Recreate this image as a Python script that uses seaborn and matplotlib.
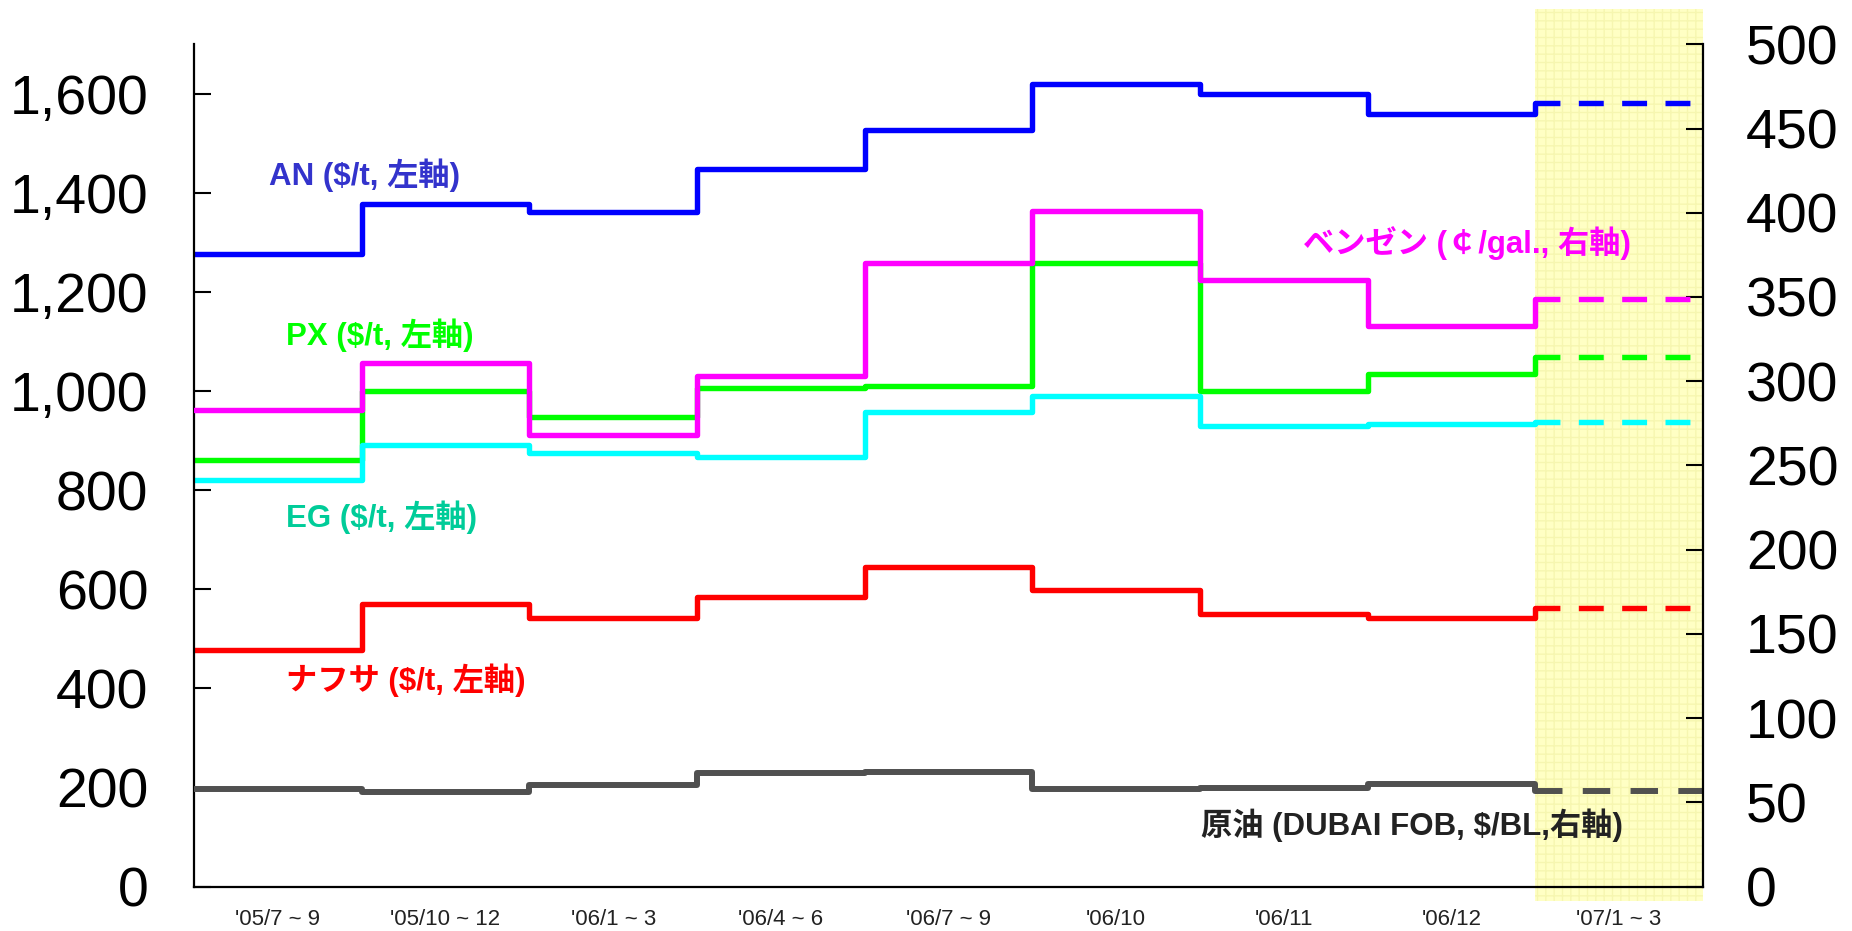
import numpy as np
import pandas as pd
import matplotlib
matplotlib.use('Agg')
import matplotlib.pyplot as plt
import seaborn as sns
from matplotlib.ticker import FuncFormatter, FixedLocator

# periods on the x axis
periods = ["'05/7 ~ 9", "'05/10 ~ 12", "'06/1 ~ 3", "'06/4 ~ 6", "'06/7 ~ 9",
           "'06/10", "'06/11", "'06/12", "'07/1 ~ 3"]

# left axis ($/t)
an = [1276, 1378, 1362, 1449, 1527, 1619, 1599, 1559, 1582]
px = [861, 1000, 948, 1007, 1011, 1259, 1001, 1035, 1068]
eg = [820, 892, 876, 867, 958, 991, 930, 934, 937]
naphtha = [478, 571, 543, 585, 646, 599, 551, 543, 562]

# right axis (c/gal, $/BL)
benzene = [283, 311, 268, 303, 370, 401, 360, 333, 349]
crude = [57.7, 56.3, 60.1, 67.6, 68.2, 57.7, 58.3, 60.9, 56.9]

sns.set_style('white')
plt.rcParams['font.family'] = ['Liberation Sans', 'Noto Sans CJK JP', 'DejaVu Sans']

fig = plt.figure(figsize=(18.52, 9.31), dpi=100)
ax = fig.add_axes([0.1048, 0.0477, 0.8147, 0.9047])
ax2 = ax.twinx()
ax2.set_position([0.1048, 0.0477, 0.8147, 0.9047])

# forecast period band
band = ax.axvspan(8, 9, ymin=-0.017, ymax=1.042, facecolor='#FFFFC4',
                  edgecolor='#F6F6B0', hatch='++', lw=0, clip_on=False, zorder=0)


def draw(a, vals, color, lw=3.9):
    n = len(vals)
    solid = pd.DataFrame({'x': np.arange(n), 'y': vals})
    sns.lineplot(data=solid, x='x', y='y', ax=a, color=color, lw=lw,
                 drawstyle='steps-post', estimator=None, sort=False)
    fc = pd.DataFrame({'x': [n - 1, n], 'y': [vals[-1], vals[-1]]})
    sns.lineplot(data=fc, x='x', y='y', ax=a, color=color, lw=lw,
                 ls=(0, (4.6, 3.4)), estimator=None, sort=False)


draw(ax, an, '#0000FF')
draw(ax, px, '#00FF00')
draw(ax, eg, '#00FFFF')
draw(ax, naphtha, '#FF0000')
draw(ax2, benzene, '#FF00FF')
draw(ax2, crude, '#505050', lw=4.3)

ax.set_xlim(0, 9)
ax.set_ylim(0, 1700)
ax2.set_ylim(0, 500)

ax.set_yticks(np.arange(0, 1601, 200))
ax.yaxis.set_major_formatter(FuncFormatter(lambda v, p: f'{v:,.0f}'))
ax2.set_yticks(np.arange(0, 501, 50))

ax.xaxis.set_major_locator(FixedLocator(np.arange(0, 10)))
ax.xaxis.set_minor_locator(FixedLocator(np.arange(9) + 0.5))
ax.set_xticklabels([])
ax.set_xticklabels(periods, minor=True)
ax.tick_params(axis='x', which='major', direction='in', length=10, width=1.5, color='black')
ax.tick_params(axis='x', which='minor', length=0, labelsize=16, pad=16, labelcolor='#222222')

ax.tick_params(axis='y', direction='in', length=12, width=1.5, labelsize=40, pad=33,
               left=True, right=False, colors='black')
ax2.tick_params(axis='y', direction='in', length=12, width=1.5, labelsize=40, pad=31,
                right=True, left=False, colors='black')

ax.set_xlabel('')
ax.set_ylabel('')
ax2.set_ylabel('')

for s in ['top', 'right']:
    ax.spines[s].set_visible(False)
for s in ['top', 'left', 'bottom']:
    ax2.spines[s].set_visible(False)
for s in ['left', 'bottom']:
    ax.spines[s].set_linewidth(1.6)
    ax.spines[s].set_color('black')
ax2.spines['right'].set_linewidth(1.6)
ax2.spines['right'].set_color('black')

lab_font = ['Liberation Sans Narrow', 'Liberation Sans', 'Noto Sans CJK JP']
ax.text(0.447, 1435, 'AN ($/t, 左軸)', color='#3333CC', fontsize=22.5, fontweight='bold',
        family=lab_font, va='center', ha='left')
ax.text(0.549, 1113, 'PX ($/t, 左軸)', color='#00FF00', fontsize=22.5, fontweight='bold',
        family=lab_font, va='center', ha='left')
ax.text(0.549, 746, 'EG ($/t, 左軸)', color='#00CC99', fontsize=22.5, fontweight='bold',
        family=lab_font, va='center', ha='left')
ax.text(0.549, 417, 'ナフサ ($/t, 左軸)', color='#FF0000', fontsize=22.5, fontweight='bold',
        family=lab_font, va='center', ha='left')
ax.text(6.617, 1299, 'ベンゼン (￠/gal., 右軸)', color='#FF00FF', fontsize=22.5, fontweight='bold',
        family=lab_font, va='center', ha='left')
ax.text(6.006, 124, '原油 (DUBAI FOB, $/BL,右軸)', color='#222222', fontsize=22.5, fontweight='bold',
        family=lab_font, va='center', ha='left')

fig.savefig('out.png', dpi=100)
